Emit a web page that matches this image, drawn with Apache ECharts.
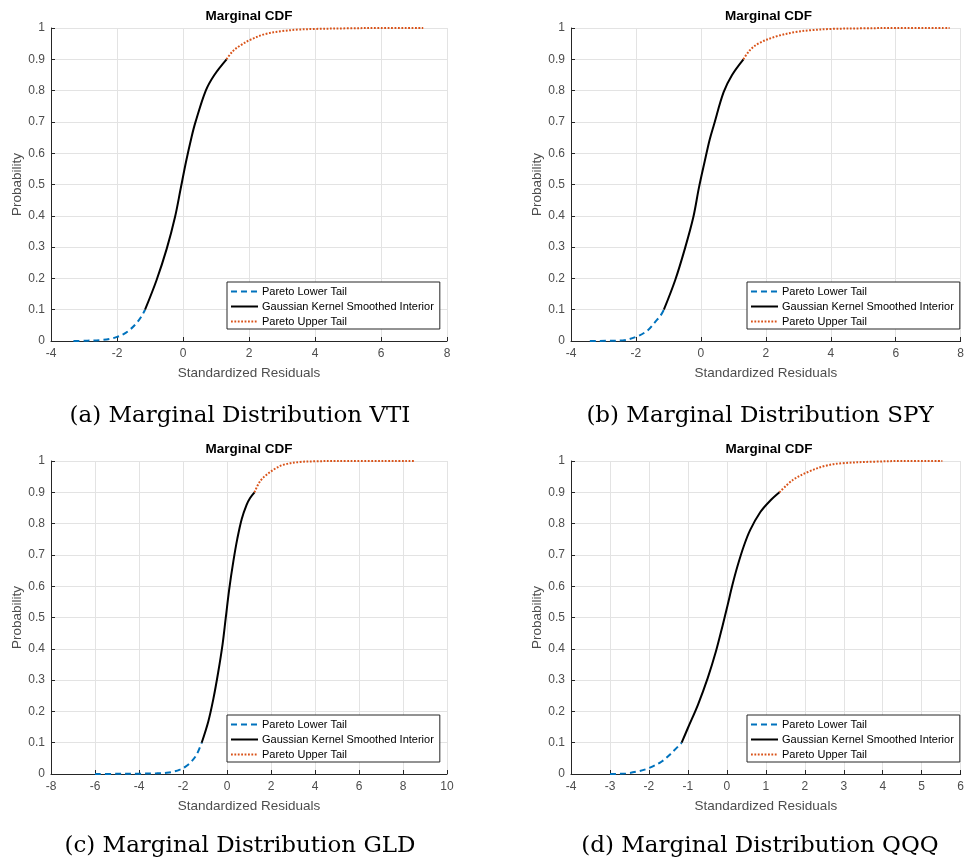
<!DOCTYPE html>
<html>
<head>
<meta charset="utf-8">
<title>Marginal CDF</title>
<script src="https://cdn.jsdelivr.net/npm/echarts@6/dist/echarts.min.js"></script>
<style>
html, body { margin: 0; padding: 0; background: #fff; }
#chart { width: 967px; height: 859px; }
</style>
</head>
<body>
<div id="chart"></div>
<script>
const legendNames = ['Pareto Lower Tail', 'Gaussian Kernel Smoothed Interior', 'Pareto Upper Tail']
const captions = ['(a) Marginal Distribution VTI', '(b) Marginal Distribution SPY', '(c) Marginal Distribution GLD', '(d) Marginal Distribution QQQ']
// [min, max, interval]
const xRanges = [[-4, 8, 2], [-4, 8, 2], [-8, 10, 2], [-4, 6, 1]]
const yRange = [0, 1, 0.1]

// VTI
const vtiLower = [[-3.32, 0], [-2.9, 0.001], [-2.5, 0.003], [-2.2, 0.007], [-2.0, 0.013], [-1.8, 0.022], [-1.6, 0.037], [-1.4, 0.058], [-1.25, 0.08], [-1.15, 0.1]]
const vtiInterior = [[-1.15, 0.1], [-0.8, 0.195], [-0.49, 0.296], [-0.24, 0.397], [-0.07, 0.487], [0.09, 0.572], [0.26, 0.652], [0.38, 0.7], [0.69, 0.8], [0.95, 0.85], [1.32, 0.9]]
const vtiUpper = [[1.32, 0.9], [1.5, 0.925], [1.75, 0.945], [2.05, 0.963], [2.5, 0.981], [3.0, 0.99], [3.5, 0.995], [4.0, 0.997], [5.0, 0.999], [6.0, 1.0], [7.28, 1.0]]

// SPY
const spyLower = [[-3.42, 0], [-2.92, 0.0005], [-2.41, 0.002], [-2.0, 0.013], [-1.65, 0.033], [-1.4, 0.062], [-1.25, 0.08], [-1.14, 0.1]]
const spyInterior = [[-1.14, 0.1], [-0.79, 0.195], [-0.49, 0.296], [-0.23, 0.397], [-0.06, 0.49], [0.12, 0.575], [0.27, 0.643], [0.4, 0.69], [0.7, 0.795], [0.96, 0.85], [1.31, 0.9]]
const spyUpper = [[1.31, 0.9], [1.5, 0.928], [1.8, 0.952], [2.35, 0.974], [2.96, 0.988], [3.4, 0.993], [4.0, 0.997], [5.0, 0.999], [6.0, 1.0], [7.66, 1.0]]

// GLD
const gldLower = [[-6.0, 0], [-5.0, 0.0005], [-4.0, 0.001], [-3.2, 0.002], [-2.74, 0.004], [-2.4, 0.008], [-2.14, 0.014], [-1.9, 0.023], [-1.68, 0.035], [-1.38, 0.062], [-1.15, 0.1]]
const gldInterior = [[-1.15, 0.1], [-0.85, 0.168], [-0.62, 0.24], [-0.4, 0.325], [-0.2, 0.415], [-0.06, 0.497], [0.1, 0.59], [0.29, 0.68], [0.47, 0.752], [0.67, 0.815], [0.89, 0.86], [1.05, 0.882], [1.25, 0.9]]
const gldUpper = [[1.25, 0.9], [1.5, 0.935], [1.8, 0.956], [2.2, 0.976], [2.56, 0.988], [3.32, 0.997], [4.0, 0.999], [5.0, 1.0], [8.55, 1.0]]

// QQQ
const qqqLower = [[-3.0, 0], [-2.59, 0.002], [-2.26, 0.009], [-2.0, 0.019], [-1.67, 0.04], [-1.42, 0.067], [-1.16, 0.1]]
const qqqInterior = [[-1.16, 0.1], [-1.0, 0.147], [-0.74, 0.222], [-0.49, 0.307], [-0.28, 0.392], [-0.11, 0.474], [0.02, 0.54], [0.14, 0.603], [0.27, 0.663], [0.44, 0.73], [0.6, 0.78], [0.86, 0.837], [1.11, 0.873], [1.35, 0.9]]
const qqqUpper = [[1.35, 0.9], [1.7, 0.94], [2.12, 0.967], [2.54, 0.985], [2.96, 0.993], [3.8, 0.998], [4.5, 1.0], [5.53, 1.0]]

const panelData = [
  [vtiLower, vtiInterior, vtiUpper],
  [spyLower, spyInterior, spyUpper],
  [gldLower, gldInterior, gldUpper],
  [qqqLower, qqqInterior, qqqUpper]
]

// plot area of each subplot
const boxes = [
  { left: 51, top: 28, width: 396, height: 313 },
  { left: 571, top: 28, width: 395, height: 313 },
  { left: 51, top: 461, width: 396, height: 313 },
  { left: 571, top: 461, width: 396, height: 313 }
]

const sansFont = 'Liberation Sans, Arial, Helvetica, sans-serif'
const axisColor = '#262626'
const labelColor = '#4d4d4d'

const lineStyles = [
  { color: '#0072BD', width: 2, type: [6, 4] },
  { color: '#000000', width: 2, type: 'solid' },
  { color: '#D95319', width: 2, type: [1.8, 1.6] }
]

const chart = echarts.init(document.getElementById('chart'), null, { renderer: 'canvas' })

const grid = boxes.map(b => ({ left: b.left, top: b.top, width: b.width, height: b.height, containLabel: false }))

const xAxis = boxes.map((b, i) => ({
  type: 'value',
  gridIndex: i,
  min: xRanges[i][0],
  max: xRanges[i][1],
  interval: xRanges[i][2],
  name: 'Standardized Residuals',
  nameLocation: 'middle',
  nameGap: 25,
  nameTextStyle: { color: labelColor, fontSize: 13.5, fontFamily: sansFont },
  axisLine: { onZero: false, lineStyle: { color: axisColor, width: 1 } },
  axisTick: { show: true, inside: true, length: 4, lineStyle: { color: axisColor } },
  axisLabel: { color: labelColor, fontSize: 12, fontFamily: sansFont, margin: 7 },
  splitLine: { show: true, lineStyle: { color: '#e3e3e3', width: 1 } }
}))

const yAxis = boxes.map((b, i) => ({
  type: 'value',
  gridIndex: i,
  min: yRange[0],
  max: yRange[1],
  interval: yRange[2],
  name: 'Probability',
  nameLocation: 'middle',
  nameGap: 27,
  nameTextStyle: { color: labelColor, fontSize: 13.5, fontFamily: sansFont },
  axisLine: { show: true, onZero: false, lineStyle: { color: axisColor, width: 1 } },
  axisTick: { show: true, inside: true, length: 4, lineStyle: { color: axisColor } },
  axisLabel: { color: labelColor, fontSize: 12, fontFamily: sansFont, margin: 6 },
  splitLine: { show: true, lineStyle: { color: '#e3e3e3', width: 1 } }
}))

const series = []
panelData.forEach((curves, i) => {
  curves.forEach((pts, k) => {
    series.push({
      name: legendNames[k],
      type: 'line',
      xAxisIndex: i,
      yAxisIndex: i,
      data: pts,
      smooth: 0.35,
      showSymbol: false,
      symbol: 'none',
      itemStyle: { color: lineStyles[k].color },
      lineStyle: lineStyles[k],
      z: 3 + k,
      animation: false
    })
  })
})

const title = boxes.map(b => ({
  text: 'Marginal CDF',
  left: b.left + b.width / 2,
  top: b.top - 19,
  textAlign: 'center',
  padding: 0,
  textStyle: { color: '#000', fontSize: 13.5, fontWeight: 'bold', fontFamily: sansFont, lineHeight: 14 }
}))

const legend = boxes.map(b => ({
  data: legendNames,
  orient: 'vertical',
  left: b.left + 176,
  top: b.top + 254,
  padding: [4, 6, 2, 3],
  itemGap: 4,
  itemWidth: 27,
  itemHeight: 10,
  backgroundColor: '#ffffff',
  borderColor: axisColor,
  borderWidth: 1,
  borderRadius: 0,
  selectedMode: false,
  itemStyle: { opacity: 0 },
  textStyle: { color: '#000', fontSize: 11, fontFamily: sansFont, padding: [0, 0, 0, -1] }
}))

const captionPos = [[240, 416], [760, 416], [240, 846], [760, 846]]
const graphic = captions.map((c, i) => ({
  type: 'text',
  x: captionPos[i][0],
  y: captionPos[i][1],
  style: {
    text: c,
    textAlign: 'center',
    textVerticalAlign: 'middle',
    font: '23px "DejaVu Serif", serif',
    fill: '#000'
  }
}))

chart.setOption({
  backgroundColor: '#fff',
  animation: false,
  title: title,
  legend: legend,
  grid: grid,
  xAxis: xAxis,
  yAxis: yAxis,
  series: series,
  graphic: graphic
})
</script>
</body>
</html>
